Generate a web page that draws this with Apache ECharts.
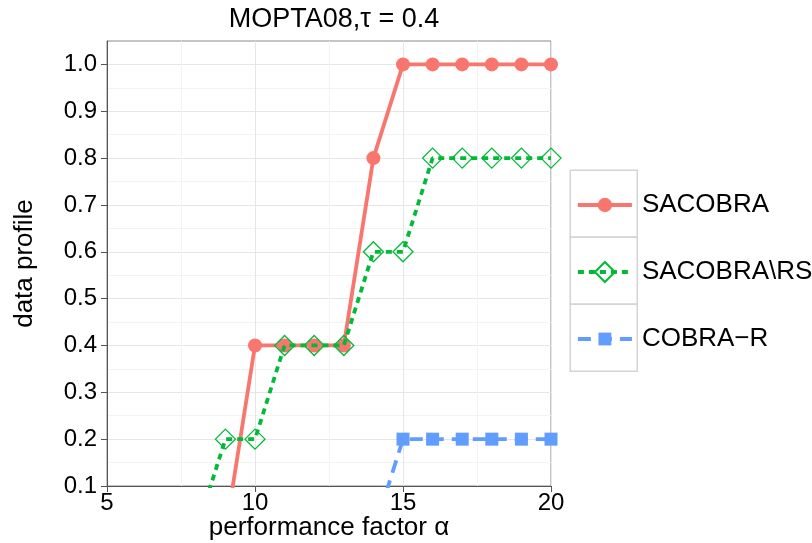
<!DOCTYPE html>
<html><head><meta charset="utf-8">
<script src="https://cdn.jsdelivr.net/npm/echarts@6/dist/echarts.min.js"></script>
<style>html,body{margin:0;padding:0;background:#fff}#c{width:812px;height:543px}</style>
</head><body><div id="c"></div>
<script>
const title = "MOPTA08,τ = 0.4";
const seriesNames = ["SACOBRA", "SACOBRA\\RS", "COBRA\u2212R"];
const sacobraX = [9, 10, 11, 12, 13, 14, 15, 16, 17, 18, 19, 20];
const sacobraY = [0, 0.4, 0.4, 0.4, 0.4, 0.8, 1.0, 1.0, 1.0, 1.0, 1.0, 1.0];
const sacobraRsX = [8, 9, 10, 11, 12, 13, 14, 15, 16, 17, 18, 19, 20];
const sacobraRsY = [0, 0.2, 0.2, 0.4, 0.4, 0.4, 0.6, 0.6, 0.8, 0.8, 0.8, 0.8, 0.8];
const cobraRX = [14, 15, 16, 17, 18, 19, 20];
const cobraRY = [0, 0.2, 0.2, 0.2, 0.2, 0.2, 0.2];
const yTicks = [0.1, 0.2, 0.3, 0.4, 0.5, 0.6, 0.7, 0.8, 0.9, 1.0];
const xTicks = [5, 10, 15, 20];
const colors = ["#F8766D", "#00BA38", "#619CFF"];

const zip = (xs, ys) => xs.map((x, i) => [x, ys[i]]);
const FONT = "'Liberation Sans', Arial, sans-serif";
const chart = echarts.init(document.getElementById('c'), null, {renderer: 'canvas'});

const rowTops = [169.5, 236.5, 303.5];
const legendIconH = [18, 25, 16];
const legendDash = ['solid', [6, 5], [13, 8]];
const option = {
  animation: false,
  backgroundColor: '#fff',
  title: {text: title, left: 329, top: 1, textAlign: 'center',
    textStyle: {fontFamily: FONT, fontSize: 27, fontWeight: 'normal', color: '#000'}},
  grid: {left: 107, right: 261, top: 41, bottom: 57, show: true, borderColor: '#8a8a8a', borderWidth: 1,
    backgroundColor: '#fff', containLabel: false, outerBoundsMode: 'none'},
  xAxis: {
    type: 'value', min: 5, max: 20, interval: 5,
    name: 'performance factor α', nameLocation: 'middle', nameGap: 29, nameMoveOverlap: false,
    nameTextStyle: {fontFamily: FONT, fontSize: 26, color: '#000'},
    axisLine: {show: true, lineStyle: {color: '#555', width: 1}},
    axisTick: {show: true, length: 6, lineStyle: {color: '#555'}, customValues: xTicks},
    axisLabel: {fontFamily: FONT, fontSize: 24, color: '#000', margin: 5, customValues: xTicks},
    splitLine: {show: true, lineStyle: {color: '#e6e6e6', width: 1}},
    minorTick: {show: false, splitNumber: 2},
    minorSplitLine: {show: true, lineStyle: {color: '#f3f3f3', width: 1}}
  },
  yAxis: {
    type: 'value', min: 0.1, max: 1.05, interval: 0.1,
    name: 'data profile', nameLocation: 'middle', nameGap: 69, nameMoveOverlap: false,
    nameTextStyle: {fontFamily: FONT, fontSize: 26, color: '#000'},
    axisLine: {show: true, lineStyle: {color: '#555', width: 1}},
    axisTick: {show: true, length: 6, lineStyle: {color: '#555'}, customValues: yTicks},
    axisLabel: {fontFamily: FONT, fontSize: 24, color: '#000', margin: 10, customValues: yTicks,
      formatter: v => v.toFixed(1)},
    splitLine: {show: true, lineStyle: {color: '#e6e6e6', width: 1}},
    minorTick: {show: false, splitNumber: 2},
    minorSplitLine: {show: true, lineStyle: {color: '#f3f3f3', width: 1}}
  },
  legend: seriesNames.map((n, i) => ({
    data: [n], orient: 'vertical', left: 571, top: rowTops[i] + 33.5 - 18,
    itemWidth: 54, itemHeight: legendIconH[i],
    lineStyle: {width: 3.8, color: colors[i], type: legendDash[i]},
    textStyle: {fontFamily: FONT, fontSize: 26, color: '#000', padding: [0, 0, 0, 5], lineHeight: 30}
  })),
  graphic: rowTops.map(t => ({
    type: 'rect', z: -1, left: 569.5, top: t,
    shape: {width: 67, height: 67},
    style: {fill: '#fff', stroke: '#d4d4d4', lineWidth: 1.5}
  })),
  series: [
    {name: seriesNames[0], type: 'line', data: zip(sacobraX, sacobraY), clip: true,
      symbol: 'circle', symbolSize: 14, showAllSymbol: true,
      lineStyle: {color: colors[0], width: 3.8}, itemStyle: {color: colors[0]}, z: 3},
    {name: seriesNames[1], type: 'line', data: zip(sacobraRsX, sacobraRsY), clip: true,
      symbol: 'diamond', symbolSize: 20, showAllSymbol: true,
      lineStyle: {color: colors[1], width: 3.8, type: [6, 5]},
      itemStyle: {color: 'rgba(0,0,0,0)', borderColor: colors[1], borderWidth: 1.3}, z: 4},
    {name: seriesNames[2], type: 'line', data: zip(cobraRX, cobraRY), clip: true,
      symbol: 'rect', symbolSize: 13, showAllSymbol: true,
      lineStyle: {color: colors[2], width: 3.8, type: [13, 8]}, itemStyle: {color: colors[2]}, z: 2}
  ]
};
chart.setOption(option);
</script></body></html>
